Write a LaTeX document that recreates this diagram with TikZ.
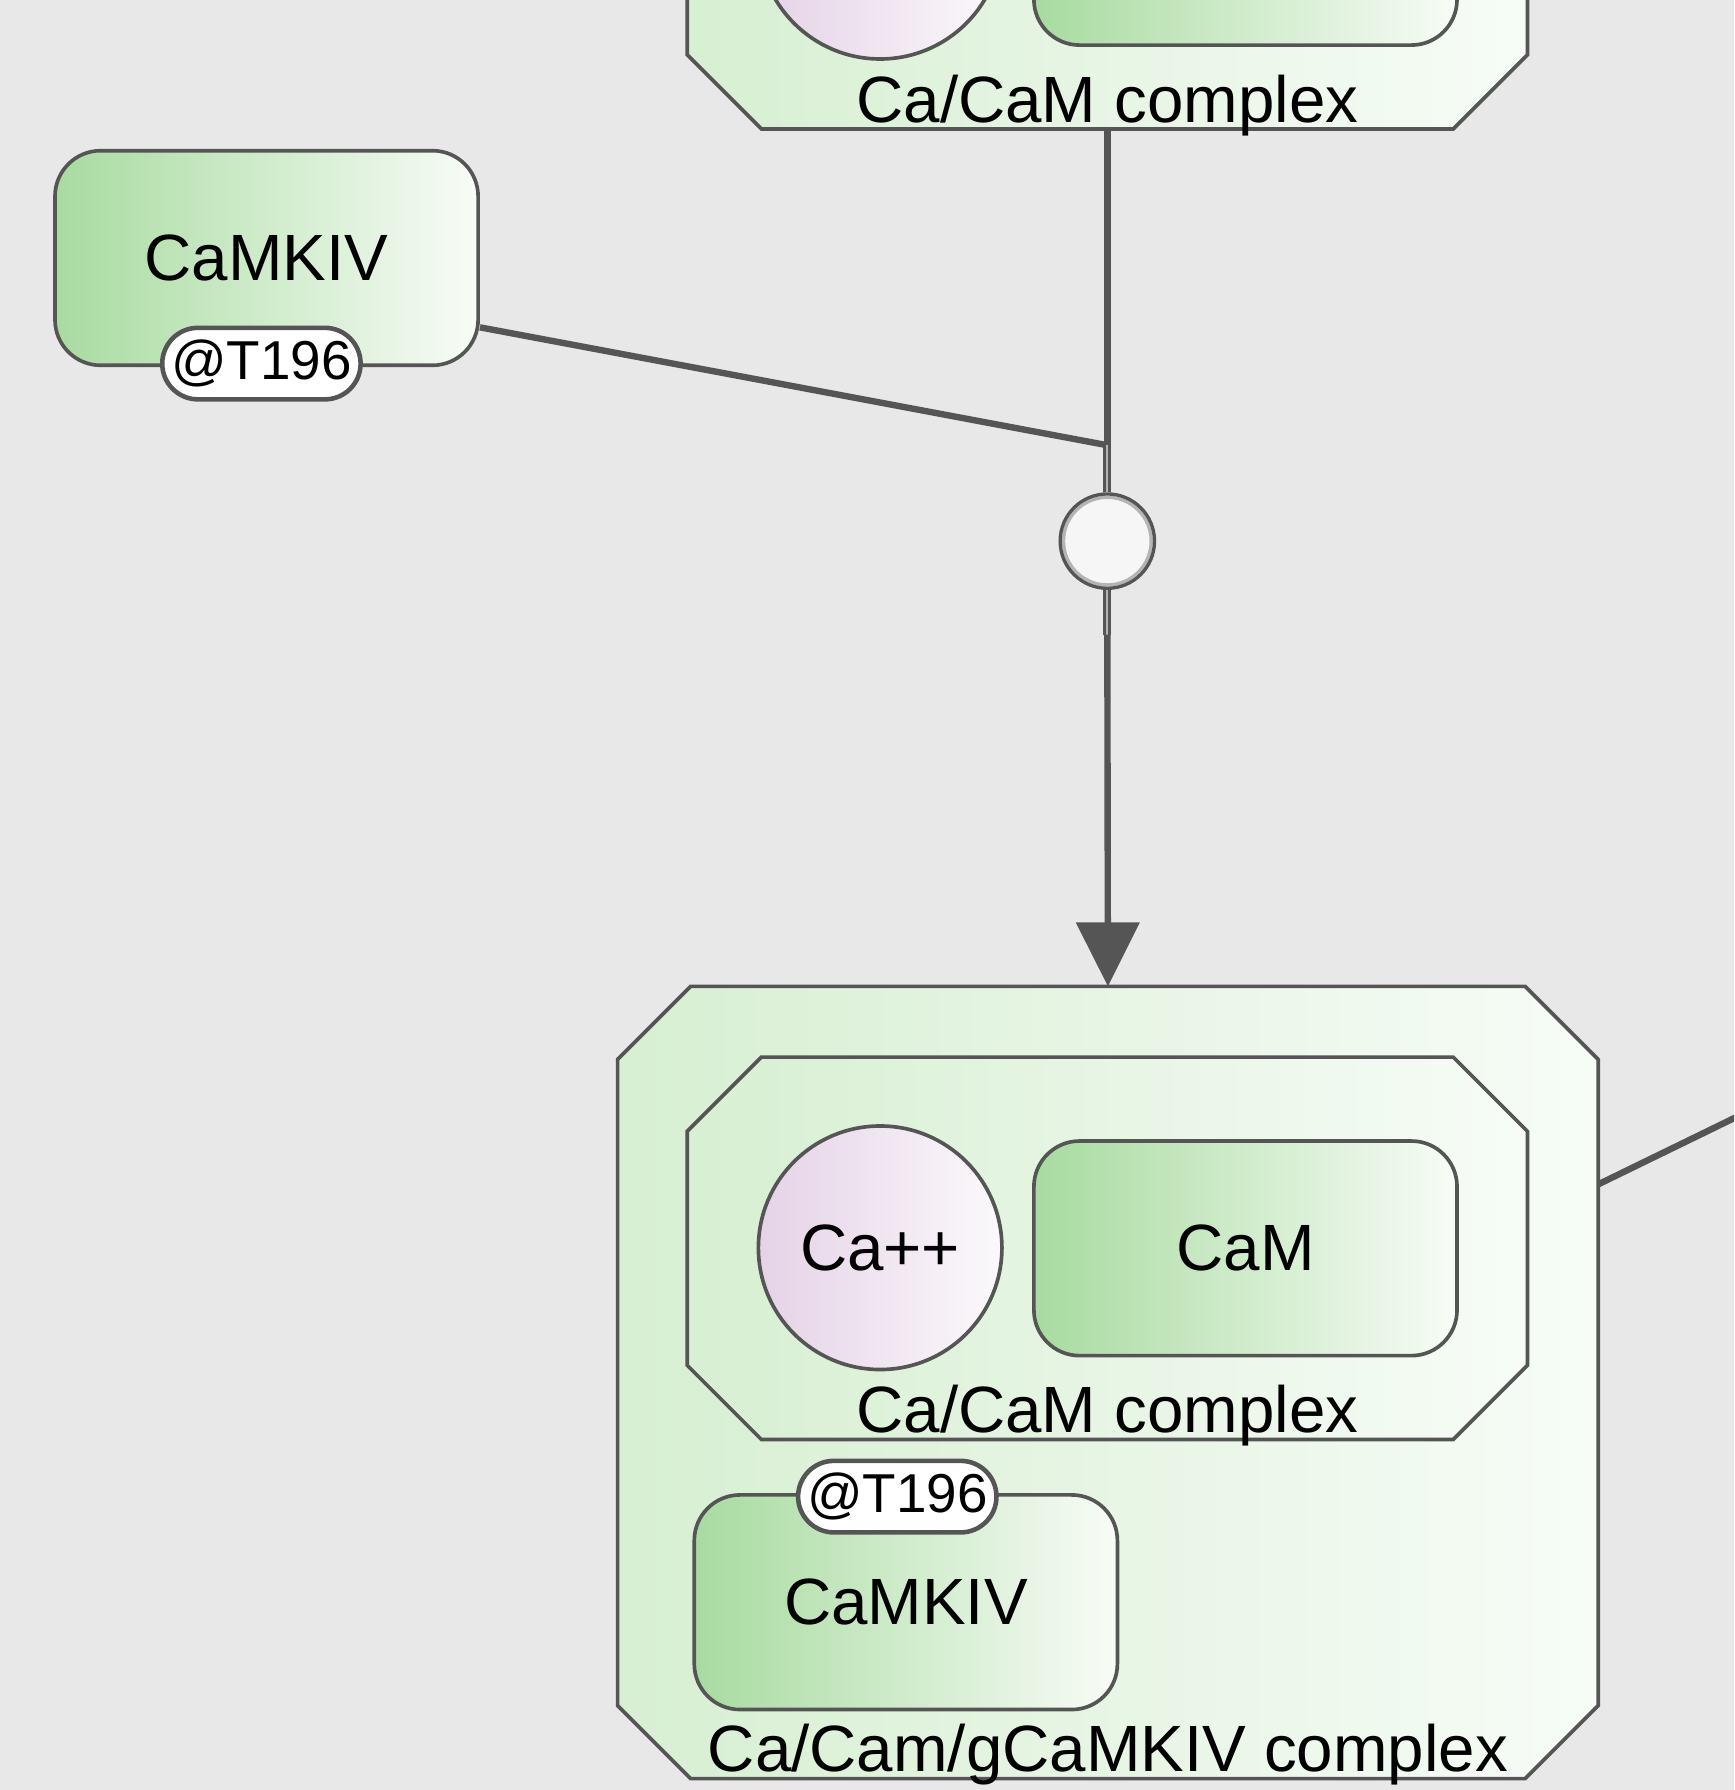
\documentclass[tikz,border=0pt]{standalone}
\usepackage{fontspec}
\setmainfont{Liberation Sans}
\usetikzlibrary{arrows.meta,shapes.misc}

\definecolor{bgGray}{HTML}{E8E8E8}
\definecolor{edgeGray}{HTML}{555555}
\definecolor{mmGreen}{HTML}{A8DBA0}
\definecolor{mmWhite}{HTML}{F8FCF7}
\definecolor{cxGreen}{HTML}{D7EFD2}
\definecolor{cxWhite}{HTML}{F7FCF7}
\definecolor{sfPink}{HTML}{E5D2E7}
\definecolor{sfWhite}{HTML}{FBF9FB}
\definecolor{pnGray}{HTML}{B4B4B4}
\definecolor{pnFill}{HTML}{F6F6F6}

\begin{document}
\begin{tikzpicture}[x=0.75pt,y=0.75pt,yscale=-1,xscale=1,
	every node/.style={font=\fontsize{43}{50}\selectfont},
	macromol/.style={draw=edgeGray,line width=2.4pt,rounded corners=30pt,left color=mmGreen,right color=mmWhite,minimum width=278pt,minimum height=141pt,inner sep=0pt},
	simplechem/.style={circle,draw=edgeGray,line width=2.4pt,left color=sfPink,right color=sfWhite,minimum size=160pt,inner sep=0pt},
	statevar/.style={rounded rectangle,draw=edgeGray,line width=3pt,fill=white,minimum width=130pt,minimum height=47pt,inner sep=0pt,font=\fontsize{36}{40}\selectfont},
	cplx/.style={draw=edgeGray,line width=2.4pt,left color=cxGreen,right color=cxWhite},
	cplxbox/.style={inner sep=0pt,outer sep=0pt},
	cplxlabel/.style={anchor=base,inner sep=0pt},
	process/.style={circle,draw=edgeGray,line width=2.2pt,fill=pnFill,minimum size=62pt,inner sep=0pt,
		path picture={\draw[pnGray,line width=2.2pt] (path picture bounding box.center) circle (28.8pt);}},
	arc/.style={draw=edgeGray,line width=4.2pt},
	port/.style={draw=edgeGray,line width=2pt,double=pnGray,double distance=1.4pt},
	]
	\useasboundingbox (0,0) rectangle (1519,1568);
	\clip (0,0) rectangle (1519,1568);
	\fill[bgGray] (0,0) rectangle (1519,1568);

	%Complex: Ca/CaM (top, cut by the border)
	\draw[cplx] (602,-157) -- (667,-222) -- (1273,-222) -- (1338,-157) -- (1338,48) -- (1273,113) -- (667,113) -- (602,48) -- cycle;
	\node[cplxbox,minimum width=552pt,minimum height=251.25pt] (cxTop) at (970,-54.5) {};
	\node[simplechem] (caTop) at (771,-55) {};
	\node[macromol] (camTop) at (1091,-54.5) {};
	% Text Node
	\node[cplxlabel] (cxTopLbl) at (970,107) {Ca/CaM complex};

	%Macromolecule: CaMKIV
	\node[macromol] (camkiv) at (233.5,226) {CaMKIV};
	\node[statevar] (camkivSv) at (229,318.5) {@T196};

	%Process
	\coordinate (junc) at (970,390);
	\node[process] (proc) at (970,474) {};
	\coordinate (procOut) at (970,556);

	%Complex: Ca/Cam/gCaMKIV
	\draw[cplx] (541,928) -- (605,864) -- (1336,864) -- (1400,928) -- (1400,1494) -- (1336,1558) -- (605,1558) -- (541,1494) -- cycle;
	\node[cplxbox,minimum width=644.25pt,minimum height=520.5pt] (cxBot) at (970.5,1211) {};
	%Complex: Ca/CaM (inner)
	\draw[cplx] (602,991) -- (667,926) -- (1273,926) -- (1338,991) -- (1338,1196) -- (1273,1261) -- (667,1261) -- (602,1196) -- cycle;
	\node[simplechem] (caIn) at (771,1093) {Ca++};
	\node[macromol] (camIn) at (1091,1093.5) {CaM};
	% Text Node
	\node[cplxlabel] (cxInLbl) at (970,1255) {Ca/CaM complex};
	\node[macromol] (camkivIn) at (793.5,1403.5) {CaMKIV};
	\node[statevar] (camkivInSv) at (786,1311) {@T196};
	% Text Node
	\node[cplxlabel] (cxBotLbl) at (970.5,1552) {Ca/Cam/gCaMKIV complex};

	%Arcs
	\draw[arc] (cxTop.south) -- (junc);
	\draw[arc] (camkiv.-18.5) -- (junc);
	\draw[port] (junc) -- (proc.north);
	\draw[port] (proc.south) -- (procOut);
	\draw[arc,-{Triangle[length=42pt,width=41pt]}] (procOut) -- (cxBot.north);
	\coordinate (offRight) at (1600,940);
	\draw[arc] (cxBot.22.6) -- (offRight);

\end{tikzpicture}
\end{document}
